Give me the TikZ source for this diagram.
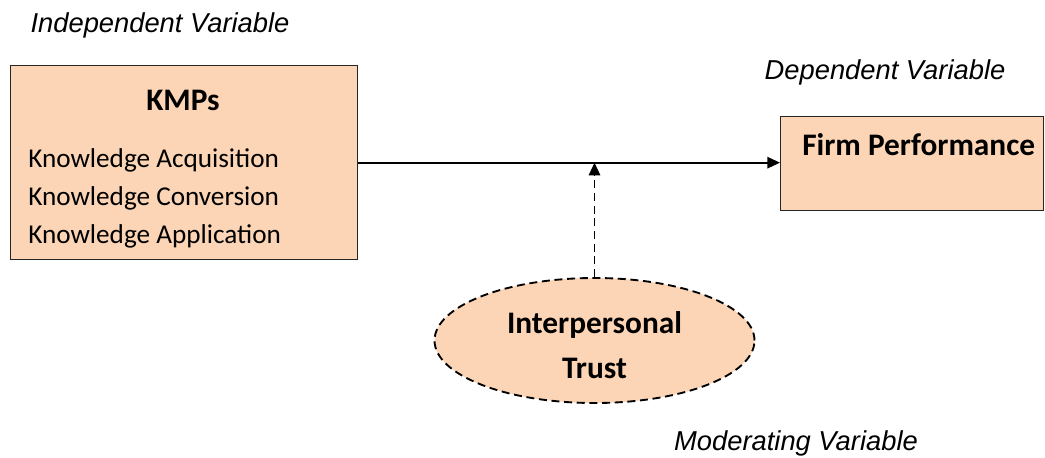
\documentclass[tikz,border=0pt]{standalone}
\usepackage{fontspec}
\setmainfont{Carlito}
\newfontfamily\labelfont{Liberation Sans}
\usetikzlibrary{shapes.geometric,arrows.meta}

\definecolor{peach}{HTML}{FBD5B5}

\begin{document}
\begin{tikzpicture}[x=0.75pt,y=-0.75pt,
  box/.style={draw=black!85,line width=1pt,fill=peach,rectangle,inner sep=0pt},
  vlabel/.style={font=\labelfont\itshape\fontsize{20.5}{24}\selectfont},
  itemtext/.style={font=\fontsize{20.4}{24}\selectfont,anchor=west,inner sep=0pt},
  headtext/.style={font=\bfseries\fontsize{23.5}{28}\selectfont,inner sep=0pt},
  arr/.style={line width=1.4pt,-{Triangle[length=9.5pt,width=8.5pt]}}]
\useasboundingbox (0,0) rectangle (1045,457);

% Independent variable
\node[vlabel] (indeplab) at (160,25) {Independent Variable};
\node[box,anchor=north west,minimum width=347*0.75pt,minimum height=194*0.75pt] (kmp) at (10,65) {};
\node[headtext] (kmphead) at (183,100) {KMPs};
\node[itemtext] (acq) at (28,160) {Knowledge Acquisition};
\node[itemtext] (conv) at (28,198) {Knowledge Conversion};
\node[itemtext] (appl) at (28,236) {Knowledge Application};

% Dependent variable
\node[vlabel] (deplab) at (885,72) {Dependent Variable};
\node[box,anchor=north west,minimum width=263*0.75pt,minimum height=94*0.75pt] (firm) at (780,116) {};
\node[headtext,anchor=west] (firmhead) at (802,145) {Firm Performance};

% Moderating variable
\node[box,ellipse,dash pattern=on 6pt off 3.5pt,line width=1.4pt,draw=black,
  minimum width=320*0.75pt,minimum height=125*0.75pt] (trust) at (594.5,340.5) {};
\node[headtext] (trusta) at (594.5,325) {Interpersonal};
\node[headtext] (trustb) at (594.5,368) {Trust};
\node[vlabel] (modlab) at (796,443) {Moderating Variable};

% connectors
\coordinate (meet) at (trust.north |- kmp.east);
\draw[arr] (kmp.east) -- (kmp.east -| firm.west);
\draw[arr,dash pattern=on 6pt off 3.5pt] (trust.north) -- (meet);

\end{tikzpicture}
\end{document}
